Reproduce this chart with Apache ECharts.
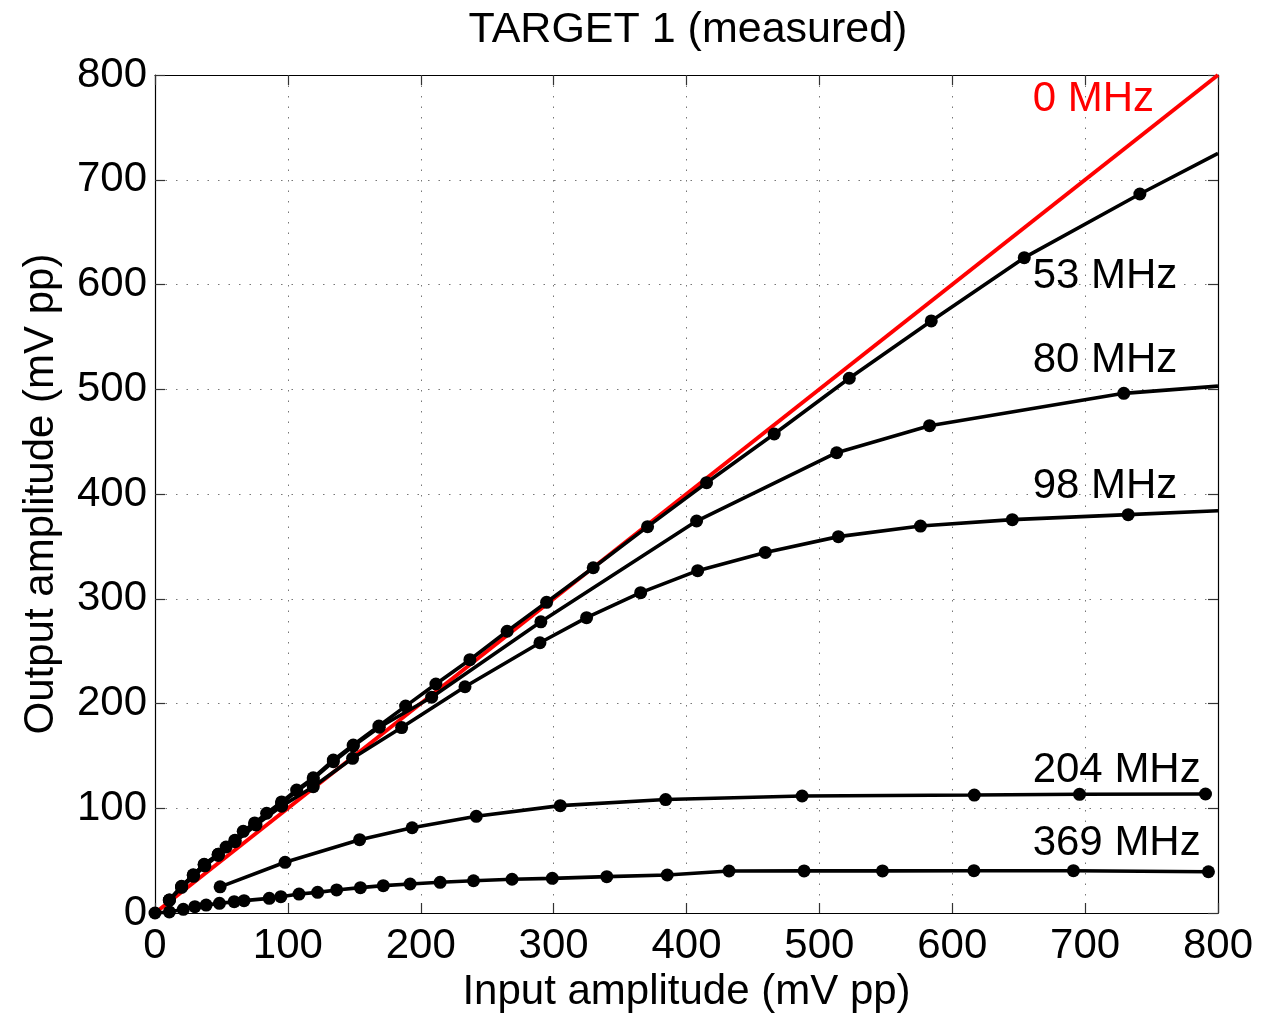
<!DOCTYPE html>
<html>
<head>
<meta charset="utf-8">
<script src="https://cdn.jsdelivr.net/npm/echarts@6/dist/echarts.min.js"></script>
<style>
html,body{margin:0;padding:0;background:#fff;}
#chart{width:1288px;height:1013px;}
</style>
</head>
<body>
<div id="chart"></div>
<script>
// ---- data (input mV pp, output mV pp) ----
const titleText = 'TARGET 1 (measured)';
const xAxisName = 'Input amplitude (mV pp)';
const yAxisName = 'Output amplitude (mV pp)';
const xTicks = [0, 100, 200, 300, 400, 500, 600, 700, 800];
const yTicks = [0, 100, 200, 300, 400, 500, 600, 700, 800];

const mhz0 = [[0, 0], [800, 800]];
const mhz53 = [[10.8,12.4],[20,25.5],[28.8,36.5],[37,46.5],[47.6,56],[53.5,63],[60.2,69.5],[66.4,78],[75,86],[84,95.2],[95.3,106],[106.6,117.4],[119.1,129],[134.2,146],[149.2,160.4],[168.5,178.5],[188.6,197.5],[211.4,218.6],[237,241.8],[265,269],[294.7,296.6],[329.8,329.6],[370.7,368.8],[415.1,410.8],[466,457.3],[522.5,510.5],[584.2,565.2],[654.2,625.6],[741.2,686.4],[800,725.2]];
const mhz80 = [[10.8,12.4],[20,25],[28.8,36],[37,46],[47.6,56],[60.2,69],[75,85],[95.3,105],[119.1,128],[134.2,144.4],[149.2,159.4],[168.8,177.3],[208.2,206],[290.4,278],[407.6,374.2],[513,439.4],[582.9,465.2],[729.1,496.1],[800,503]];
const mhz98 = [[10.8,12],[20,24.5],[29,35],[37.6,45],[47.6,55],[60.2,68],[76,84],[95.3,102],[119.1,120.6],[148.7,147.7],[185.6,177],[233.3,216],[289.7,258],[324.8,281.9],[365.5,305.8],[408.4,326.8],[459.3,344.2],[514.3,359.3],[576.1,369.4],[645.2,375.5],[732.4,380.3],[800,384]];
const mhz204 = [[49,25],[97.9,48.4],[154,70],[193.5,81.4],[241.8,92.3],[305,102.5],[384.3,108.3],[487,111.7],[616.6,112.6],[695.8,113.3],[790.6,113.6]];
const mhz369 = [[0,0],[10.8,1],[21.3,3.5],[30,6],[38.5,7.6],[48.5,9.2],[59.6,10.8],[67,11.8],[86,14],[94.7,15.6],[108.4,18.1],[122.4,19.7],[136.7,22],[154.6,24.2],[171.8,26.1],[192,27.7],[214.6,29.3],[239.7,30.8],[268.7,32.2],[299,33.1],[340,34.7],[385.5,36.3],[432,40.1],[488.5,40.2],[547.5,40.2],[616.3,40.4],[691.2,40.4],[792.8,39.4]];

const labelTexts = ['0 MHz', '53 MHz', '80 MHz', '98 MHz', '204 MHz', '369 MHz'];
const labelColors = ['#ff0000', '#000', '#000', '#000', '#000', '#000'];
const labelAnchors = [[660.5, 776.5], [660.5, 607.5], [660.5, 527.5], [660.5, 407.5], [660.5, 136.5], [660.5, 66]];

const FONT = '"Liberation Sans", Arial, Helvetica, sans-serif';
const FS = 42;

const chart = echarts.init(document.getElementById('chart'), null, {renderer: 'canvas'});

const gridDash = {color: '#777', width: 1, type: [1.5, 9]};
function blackSeries(data) {
  return {
    type: 'line', data: data, xAxisIndex: 0, yAxisIndex: 0,
    symbol: function (v) { return v[0] >= 800 ? 'none' : 'circle'; },
    symbolSize: 13,
    lineStyle: {color: '#000', width: 3.6},
    itemStyle: {color: '#000'},
    z: 3, silent: true, animation: false
  };
}

const option = {
  animation: false,
  backgroundColor: '#fff',
  textStyle: {fontFamily: FONT},
  grid: {left: 155, right: 70, top: 75, bottom: 100, containLabel: false, outerBoundsMode: 'none'},
  xAxis: [{
    type: 'value', min: 0, max: 800, interval: 100, position: 'bottom',
    name: xAxisName, nameLocation: 'middle', nameGap: 55,
    nameTextStyle: {fontSize: FS, color: '#000', fontFamily: FONT},
    axisLine: {show: true, onZero: false, lineStyle: {color: '#000', width: 1.2}},
    axisTick: {show: true, inside: true, length: 10, lineStyle: {color: '#333', width: 1.2}},
    axisLabel: {fontSize: FS, color: '#000', margin: 12, fontFamily: FONT,
      formatter: function (v) { return xTicks.indexOf(v) >= 0 ? String(v) : ''; }},
    splitLine: {show: true, lineStyle: gridDash}
  }, {
    type: 'value', min: 0, max: 800, interval: 100, position: 'top',
    axisLine: {show: true, onZero: false, lineStyle: {color: '#000', width: 1.2}},
    axisTick: {show: true, inside: true, length: 10, lineStyle: {color: '#333', width: 1.2}},
    axisLabel: {show: false}, splitLine: {show: false}
  }],
  yAxis: [{
    type: 'value', min: 0, max: 800, interval: 100, position: 'left',
    name: yAxisName, nameLocation: 'middle', nameGap: 93, nameRotate: 90,
    nameTextStyle: {fontSize: FS, color: '#000', fontFamily: FONT},
    axisLine: {show: true, onZero: false, lineStyle: {color: '#000', width: 1.2}},
    axisTick: {show: true, inside: true, length: 10, lineStyle: {color: '#333', width: 1.2}},
    axisLabel: {fontSize: FS, color: '#000', margin: 8, fontFamily: FONT,
      formatter: function (v) { return yTicks.indexOf(v) >= 0 ? String(v) : ''; }},
    splitLine: {show: true, lineStyle: gridDash}
  }, {
    type: 'value', min: 0, max: 800, interval: 100, position: 'right',
    axisLine: {show: true, onZero: false, lineStyle: {color: '#000', width: 1.2}},
    axisTick: {show: true, inside: true, length: 10, lineStyle: {color: '#333', width: 1.2}},
    axisLabel: {show: false}, splitLine: {show: false}
  }],
  series: [
    {type: 'line', data: mhz0, symbol: 'none', lineStyle: {color: '#ff0000', width: 4}, z: 2, silent: true},
    blackSeries(mhz53),
    blackSeries(mhz80),
    blackSeries(mhz98),
    blackSeries(mhz204),
    blackSeries(mhz369)
  ]
};
chart.setOption(option);

const graphics = [{
  type: 'text', x: 688, y: 30, z: 10,
  style: {text: titleText, font: '43px ' + FONT, fill: '#000', textAlign: 'center', textVerticalAlign: 'middle'}
}];
labelTexts.forEach(function (t, i) {
  const p = chart.convertToPixel({gridIndex: 0}, labelAnchors[i]);
  graphics.push({
    type: 'text', x: p[0], y: p[1], z: 10,
    style: {text: t, font: FS + 'px ' + FONT, fill: labelColors[i], textAlign: 'left', textVerticalAlign: 'middle'}
  });
});
chart.setOption({graphic: graphics});
</script>
</body>
</html>
